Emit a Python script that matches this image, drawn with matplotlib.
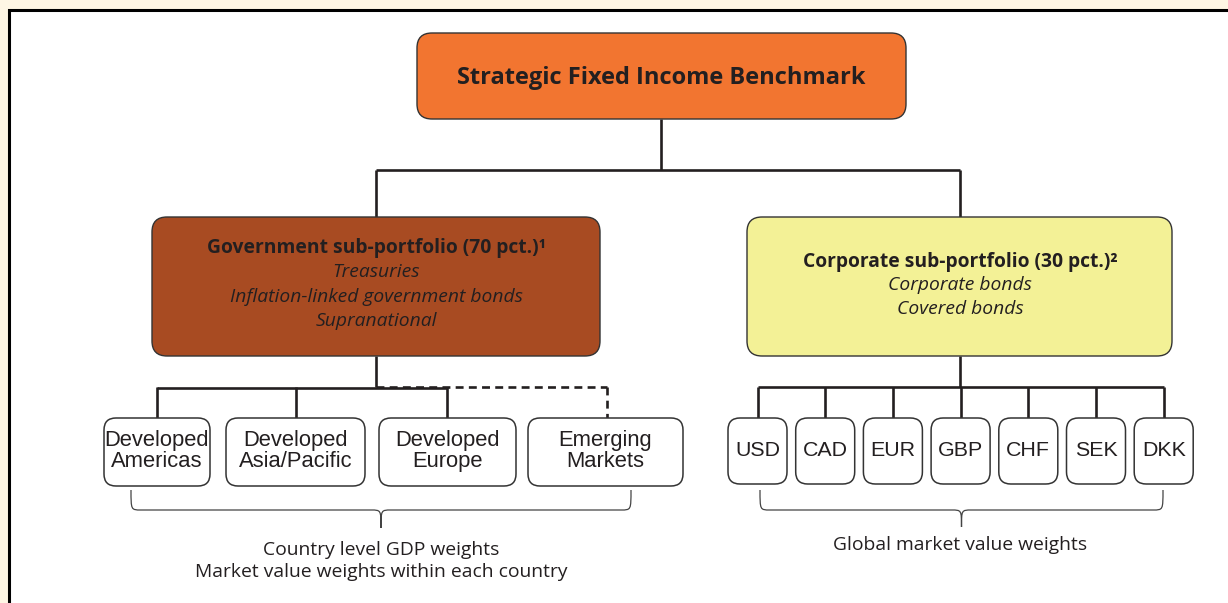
import matplotlib.pyplot as plt
from matplotlib.patches import FancyBboxPatch, Rectangle, PathPatch
from matplotlib.path import Path

# content
top_label = "Strategic Fixed Income Benchmark"
gov_title = "Government sub-portfolio (70 pct.)¹"
gov_items = ["Treasuries", "Inflation-linked government bonds", "Supranational"]
corp_title = "Corporate sub-portfolio (30 pct.)²"
corp_items = ["Corporate bonds", "Covered bonds"]
regions = ["Developed\nAmericas", "Developed\nAsia/Pacific", "Developed\nEurope", "Emerging\nMarkets"]
currencies = ["USD", "CAD", "EUR", "GBP", "CHF", "SEK", "DKK"]
gov_notes = ["Country level GDP weights", "Market value weights within each country"]
corp_notes = ["Global market value weights"]

# layout (pixel units, y downwards)
region_boxes = [(104, 210), (226, 365), (379, 516), (528, 683)]
cur_left, cur_step, cur_w = 728, 67.7, 59
small_top, small_bot = 418, 486
bus_y = 387

TXT = "#231f20"
LINE = "#231f20"
SANS = ["Open Sans", "DejaVu Sans"]
HELV = ["Liberation Sans", "DejaVu Sans"]
FS = 13.9

fig = plt.figure(figsize=(12.28, 6.03), dpi=100)
fig.patch.set_facecolor("#fef6e4")
ax = fig.add_axes([0, 0, 1, 1])
ax.set_xlim(0, 1228)
ax.set_ylim(603, 0)
ax.axis("off")

# white panel with black frame on top/left
ax.add_patch(Rectangle((8, 9), 1240, 620, facecolor="white", edgecolor="none"))
ax.plot([8.5, 8.5, 1228], [603, 9.5, 9.5], color="black", lw=2.2, solid_joinstyle="miter")


def rbox(x0, y0, x1, y1, color, r=15, lw=1.0):
    ax.add_patch(FancyBboxPatch((x0, y0), x1 - x0, y1 - y0,
                                boxstyle=f"round,pad=0,rounding_size={r}",
                                facecolor=color, edgecolor="#333333", lw=lw, zorder=3))


def line(xs, ys, **kw):
    kw.setdefault("color", LINE)
    kw.setdefault("lw", 1.9)
    ax.plot(xs, ys, zorder=2, solid_capstyle="butt", **kw)


def brace(x0, x1, y0, y1, tip):
    xc = (x0 + x1) / 2
    r = 10
    verts = [(x0, y0), (x0, y1), (x0, y1), (x0 + r, y1),
             (xc - r, y1), (xc, y1), (xc, y1), (xc, tip),
             (xc, y1), (xc, y1), (xc + r, y1),
             (x1 - r, y1), (x1, y1), (x1, y1), (x1, y0)]
    codes = [Path.MOVETO, Path.CURVE4, Path.CURVE4, Path.CURVE4,
             Path.LINETO, Path.CURVE4, Path.CURVE4, Path.CURVE4,
             Path.CURVE4, Path.CURVE4, Path.CURVE4,
             Path.LINETO, Path.CURVE4, Path.CURVE4, Path.CURVE4]
    ax.add_patch(PathPatch(Path(verts, codes), facecolor="none",
                           edgecolor="#444444", lw=0.9))


# top box
rbox(417, 33, 906, 119, "#f27530")
ax.text(661.5, 78, top_label, ha="center", va="center", fontsize=17,
        fontweight="bold", color=TXT, family=SANS, zorder=4)

# trunk
line([661, 661], [119, 170])
line([376, 960], [170, 170])
line([376, 376], [170, 217])
line([960, 960], [170, 217])

# government box
rbox(152, 217, 600, 356, "#a84b22")
ax.text(376, 248, gov_title, ha="center", va="center", fontsize=FS,
        fontweight="bold", color=TXT, family=SANS, zorder=4)
for i, item in enumerate(gov_items):
    ax.text(376, 272 + 24.5 * i, item, ha="center", va="center", fontsize=FS,
            style="italic", color=TXT, family=SANS, zorder=4)

# corporate box
rbox(747, 217, 1172, 356, "#f3f196")
ax.text(960, 262, corp_title, ha="center", va="center", fontsize=FS,
        fontweight="bold", color=TXT, family=SANS, zorder=4)
for i, item in enumerate(corp_items):
    ax.text(960, 285 + 24 * i, item, ha="center", va="center", fontsize=FS,
            style="italic", color=TXT, family=SANS, zorder=4)

# government branches
centers = [(a + b) / 2 for a, b in region_boxes]
drops = [157, 296, 447, 607]
line([376, 376], [356, bus_y])
line([drops[0], drops[2]], [bus_y + 1, bus_y + 1])
line([376, drops[3]], [bus_y, bus_y], ls=(0, (3, 2)))
line([drops[3], drops[3]], [bus_y, small_top], ls=(0, (3, 2)))
for d in drops[:3]:
    line([d, d], [bus_y, small_top])
for (a, b), lab, c in zip(region_boxes, regions, centers):
    rbox(a, small_top, b, small_bot, "white", r=12, lw=1.1)
    ax.text(c, 451, lab, ha="center", va="center", fontsize=15.8,
            color=TXT, family=HELV, linespacing=0.95, zorder=4)

# corporate branches
cur_x = [cur_left + cur_step * i for i in range(len(currencies))]
cur_c = [x + cur_w / 2 for x in cur_x]
line([960, 960], [356, bus_y])
line([cur_c[0], cur_c[-1]], [bus_y, bus_y])
for x, c, lab in zip(cur_x, cur_c, currencies):
    line([c, c], [bus_y, small_top])
    rbox(x, small_top, x + cur_w, 484, "white", r=12, lw=1.1)
    ax.text(c, 451, lab, ha="center", va="center", fontsize=15.4,
            color=TXT, family=HELV, zorder=4)

# braces and notes
brace(131, 631, 490, 510, 528)
brace(760, 1163, 490, 510, 527)
for i, note in enumerate(gov_notes):
    ax.text(381, 550 + 22 * i, note, ha="center", va="center", fontsize=FS,
            color=TXT, family=SANS)
for i, note in enumerate(corp_notes):
    ax.text(960, 545 + 22 * i, note, ha="center", va="center", fontsize=FS,
            color=TXT, family=SANS)

fig.savefig("out.png", dpi=100, facecolor=fig.get_facecolor())
